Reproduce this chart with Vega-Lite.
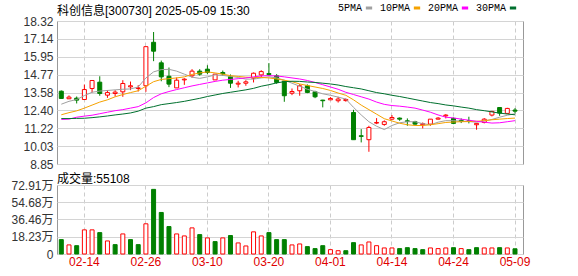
{
  "$schema": "https://vega.github.io/schema/vega-lite/v6.json",
  "background": "white",
  "padding": {"left": 10, "top": 3, "right": 0, "bottom": 0},
  "spacing": 1,
  "config": {
    "font": "Liberation Sans, Noto Sans CJK SC",
    "view": {"stroke": "#999999", "strokeWidth": 1},
    "axis": {"labelFont": "Liberation Sans, Noto Sans CJK SC", "labelFontSize": 12, "labelColor": "#333333", "ticks": false, "domain": false, "title": null, "labelOverlap": false}
  },
  "datasets": {
    "k": [
      {"d":"02-11","o":13.67,"h":13.72,"l":13.17,"c":13.19,"v":152000,"dir":"down","5PMA":12.81,"10PMA":12.11,"20PMA":11.80,"30PMA":11.86},
      {"d":"02-12","o":13.17,"h":13.39,"l":13.15,"c":13.28,"v":96000,"dir":"up","5PMA":13.00,"10PMA":12.25,"20PMA":11.82,"30PMA":11.86},
      {"d":"02-13","o":13.21,"h":13.32,"l":12.86,"c":13.08,"v":88000,"dir":"down","5PMA":13.12,"10PMA":12.37,"20PMA":11.95,"30PMA":11.87},
      {"d":"02-14","o":13.12,"h":14.11,"l":13.10,"c":13.78,"v":255000,"dir":"up","5PMA":13.38,"10PMA":12.55,"20PMA":12.02,"30PMA":11.88},
      {"d":"02-17","o":13.85,"h":14.38,"l":13.58,"c":14.38,"v":255000,"dir":"up","5PMA":13.60,"10PMA":12.75,"20PMA":12.08,"30PMA":11.92},
      {"d":"02-18","o":14.27,"h":14.66,"l":13.37,"c":13.52,"v":226000,"dir":"down","5PMA":13.68,"10PMA":12.95,"20PMA":12.18,"30PMA":11.97},
      {"d":"02-19","o":13.41,"h":13.74,"l":13.23,"c":13.58,"v":138000,"dir":"up","5PMA":13.72,"10PMA":13.10,"20PMA":12.28,"30PMA":12.03},
      {"d":"02-20","o":13.52,"h":13.74,"l":13.32,"c":13.61,"v":99000,"dir":"down","5PMA":13.76,"10PMA":13.30,"20PMA":12.38,"30PMA":12.10},
      {"d":"02-21","o":13.63,"h":14.40,"l":13.30,"c":14.18,"v":212000,"dir":"up","5PMA":13.80,"10PMA":13.45,"20PMA":12.45,"30PMA":12.16},
      {"d":"02-24","o":13.96,"h":14.31,"l":13.74,"c":14.03,"v":152000,"dir":"down","5PMA":13.82,"10PMA":13.58,"20PMA":12.55,"30PMA":12.23},
      {"d":"02-25","o":13.85,"h":14.07,"l":13.65,"c":13.89,"v":99000,"dir":"down","5PMA":13.95,"10PMA":13.70,"20PMA":12.65,"30PMA":12.35},
      {"d":"02-26","o":14.03,"h":16.62,"l":13.63,"c":16.62,"v":319000,"dir":"up","5PMA":14.55,"10PMA":14.00,"20PMA":12.90,"30PMA":12.55},
      {"d":"02-27","o":16.91,"h":17.59,"l":15.66,"c":16.32,"v":683000,"dir":"down","5PMA":14.95,"10PMA":14.30,"20PMA":13.25,"30PMA":12.65},
      {"d":"02-28","o":15.55,"h":15.70,"l":14.33,"c":14.62,"v":439000,"dir":"down","5PMA":15.10,"10PMA":14.45,"20PMA":13.50,"30PMA":12.78},
      {"d":"03-03","o":14.66,"h":15.24,"l":13.94,"c":14.14,"v":290000,"dir":"down","5PMA":15.12,"10PMA":14.50,"20PMA":13.65,"30PMA":12.85},
      {"d":"03-04","o":13.89,"h":14.58,"l":13.89,"c":14.40,"v":212000,"dir":"up","5PMA":15.00,"10PMA":14.55,"20PMA":13.78,"30PMA":12.92},
      {"d":"03-05","o":14.42,"h":14.53,"l":14.09,"c":14.47,"v":191000,"dir":"up","5PMA":14.80,"10PMA":14.62,"20PMA":13.90,"30PMA":13.00},
      {"d":"03-06","o":14.69,"h":15.13,"l":14.56,"c":15.00,"v":276000,"dir":"up","5PMA":14.60,"10PMA":14.78,"20PMA":14.02,"30PMA":13.10},
      {"d":"03-07","o":15.00,"h":15.13,"l":14.70,"c":14.80,"v":205000,"dir":"down","5PMA":14.52,"10PMA":14.88,"20PMA":14.12,"30PMA":13.20},
      {"d":"03-10","o":15.13,"h":15.39,"l":14.80,"c":14.91,"v":170000,"dir":"up","5PMA":14.62,"10PMA":14.95,"20PMA":14.22,"30PMA":13.32},
      {"d":"03-11","o":14.42,"h":14.80,"l":14.42,"c":14.80,"v":131000,"dir":"down","5PMA":14.75,"10PMA":14.88,"20PMA":14.32,"30PMA":13.42},
      {"d":"03-12","o":14.91,"h":15.04,"l":14.70,"c":14.82,"v":170000,"dir":"up","5PMA":14.72,"10PMA":14.80,"20PMA":14.40,"30PMA":13.52},
      {"d":"03-13","o":14.64,"h":14.78,"l":13.89,"c":14.20,"v":195000,"dir":"down","5PMA":14.65,"10PMA":14.70,"20PMA":14.45,"30PMA":13.60},
      {"d":"03-14","o":14.14,"h":14.36,"l":13.92,"c":14.20,"v":117000,"dir":"up","5PMA":14.58,"10PMA":14.65,"20PMA":14.50,"30PMA":13.68},
      {"d":"03-17","o":14.20,"h":14.40,"l":14.03,"c":14.29,"v":85000,"dir":"up","5PMA":14.47,"10PMA":14.60,"20PMA":14.55,"30PMA":13.76},
      {"d":"03-18","o":14.53,"h":14.91,"l":14.25,"c":14.86,"v":234000,"dir":"up","5PMA":14.47,"10PMA":14.58,"20PMA":14.62,"30PMA":13.86},
      {"d":"03-19","o":14.75,"h":15.06,"l":14.58,"c":14.97,"v":191000,"dir":"up","5PMA":14.55,"10PMA":14.58,"20PMA":14.68,"30PMA":14.00},
      {"d":"03-20","o":14.84,"h":15.53,"l":14.69,"c":14.78,"v":226000,"dir":"down","5PMA":14.62,"10PMA":14.55,"20PMA":14.70,"30PMA":14.10},
      {"d":"03-21","o":14.69,"h":14.80,"l":14.16,"c":14.25,"v":152000,"dir":"down","5PMA":14.55,"10PMA":14.48,"20PMA":14.68,"30PMA":14.22},
      {"d":"03-24","o":14.34,"h":14.36,"l":12.97,"c":13.37,"v":152000,"dir":"down","5PMA":14.40,"10PMA":14.40,"20PMA":14.62,"30PMA":14.30},
      {"d":"03-25","o":13.54,"h":13.85,"l":13.41,"c":13.65,"v":96000,"dir":"up","5PMA":14.20,"10PMA":14.30,"20PMA":14.55,"30PMA":14.33},
      {"d":"03-26","o":13.70,"h":14.14,"l":13.37,"c":14.03,"v":106000,"dir":"up","5PMA":14.00,"10PMA":14.15,"20PMA":14.48,"30PMA":14.32},
      {"d":"03-27","o":14.03,"h":14.12,"l":13.54,"c":13.59,"v":78000,"dir":"down","5PMA":13.80,"10PMA":14.05,"20PMA":14.38,"30PMA":14.28},
      {"d":"03-28","o":13.63,"h":13.70,"l":13.21,"c":13.30,"v":57000,"dir":"down","5PMA":13.65,"10PMA":13.95,"20PMA":14.25,"30PMA":14.25},
      {"d":"03-31","o":13.08,"h":13.10,"l":12.60,"c":13.04,"v":88000,"dir":"down","5PMA":13.50,"10PMA":13.85,"20PMA":14.10,"30PMA":14.20},
      {"d":"04-01","o":13.10,"h":13.28,"l":13.08,"c":13.19,"v":46000,"dir":"up","5PMA":13.40,"10PMA":13.72,"20PMA":13.95,"30PMA":14.15},
      {"d":"04-02","o":13.04,"h":13.30,"l":12.92,"c":13.15,"v":35000,"dir":"up","5PMA":13.28,"10PMA":13.55,"20PMA":13.80,"30PMA":14.08},
      {"d":"04-03","o":13.05,"h":13.20,"l":12.98,"c":13.12,"v":35000,"dir":"down","5PMA":13.15,"10PMA":13.40,"20PMA":13.60,"30PMA":13.98},
      {"d":"04-07","o":12.26,"h":12.44,"l":10.46,"c":10.46,"v":120000,"dir":"down","5PMA":12.60,"10PMA":13.10,"20PMA":13.45,"30PMA":13.90},
      {"d":"04-08","o":10.72,"h":11.16,"l":10.28,"c":10.68,"v":96000,"dir":"up","5PMA":12.10,"10PMA":12.75,"20PMA":13.30,"30PMA":13.82},
      {"d":"04-09","o":10.46,"h":11.38,"l":9.66,"c":11.27,"v":127000,"dir":"up","5PMA":11.65,"10PMA":12.45,"20PMA":13.15,"30PMA":13.70},
      {"d":"04-10","o":11.56,"h":11.89,"l":11.49,"c":11.60,"v":88000,"dir":"up","5PMA":11.35,"10PMA":12.15,"20PMA":12.95,"30PMA":13.58},
      {"d":"04-11","o":11.47,"h":11.74,"l":11.38,"c":11.65,"v":64000,"dir":"up","5PMA":11.13,"10PMA":11.85,"20PMA":12.80,"30PMA":13.50},
      {"d":"04-14","o":11.82,"h":12.09,"l":11.78,"c":11.93,"v":64000,"dir":"up","5PMA":11.40,"10PMA":11.70,"20PMA":12.72,"30PMA":13.40},
      {"d":"04-15","o":11.89,"h":11.93,"l":11.71,"c":11.82,"v":57000,"dir":"down","5PMA":11.58,"10PMA":11.55,"20PMA":12.68,"30PMA":13.32},
      {"d":"04-16","o":11.71,"h":11.87,"l":11.38,"c":11.67,"v":67000,"dir":"down","5PMA":11.65,"10PMA":11.45,"20PMA":12.62,"30PMA":13.22},
      {"d":"04-17","o":11.65,"h":11.71,"l":11.45,"c":11.49,"v":57000,"dir":"down","5PMA":11.65,"10PMA":11.40,"20PMA":12.55,"30PMA":13.12},
      {"d":"04-18","o":11.45,"h":11.60,"l":11.21,"c":11.52,"v":46000,"dir":"down","5PMA":11.52,"10PMA":11.40,"20PMA":12.42,"30PMA":13.02},
      {"d":"04-21","o":11.49,"h":11.83,"l":11.38,"c":11.82,"v":64000,"dir":"up","5PMA":11.45,"10PMA":11.45,"20PMA":12.28,"30PMA":12.92},
      {"d":"04-22","o":11.82,"h":11.95,"l":11.80,"c":11.89,"v":57000,"dir":"up","5PMA":11.62,"10PMA":11.52,"20PMA":12.10,"30PMA":12.85},
      {"d":"04-23","o":12.04,"h":12.15,"l":11.87,"c":12.09,"v":64000,"dir":"up","5PMA":11.72,"10PMA":11.60,"20PMA":11.95,"30PMA":12.76},
      {"d":"04-24","o":11.87,"h":11.93,"l":11.49,"c":11.54,"v":67000,"dir":"down","5PMA":11.72,"10PMA":11.63,"20PMA":11.90,"30PMA":12.70},
      {"d":"04-25","o":11.74,"h":11.87,"l":11.56,"c":11.67,"v":57000,"dir":"up","5PMA":11.68,"10PMA":11.65,"20PMA":11.82,"30PMA":12.62},
      {"d":"04-28","o":11.71,"h":11.98,"l":11.54,"c":11.67,"v":46000,"dir":"down","5PMA":11.66,"10PMA":11.66,"20PMA":11.75,"30PMA":12.55},
      {"d":"04-29","o":11.45,"h":11.56,"l":11.12,"c":11.54,"v":67000,"dir":"down","5PMA":11.62,"10PMA":11.68,"20PMA":11.68,"30PMA":12.45},
      {"d":"04-30","o":11.60,"h":11.89,"l":11.54,"c":11.82,"v":64000,"dir":"up","5PMA":11.70,"10PMA":11.72,"20PMA":11.62,"30PMA":12.38},
      {"d":"05-06","o":12.09,"h":12.37,"l":12.00,"c":12.33,"v":64000,"dir":"up","5PMA":11.80,"10PMA":11.78,"20PMA":11.56,"30PMA":12.30},
      {"d":"05-07","o":12.59,"h":12.59,"l":12.04,"c":12.22,"v":67000,"dir":"down","5PMA":11.95,"10PMA":11.82,"20PMA":11.58,"30PMA":12.22},
      {"d":"05-08","o":12.20,"h":12.57,"l":12.20,"c":12.53,"v":64000,"dir":"up","5PMA":12.08,"10PMA":11.86,"20PMA":11.65,"30PMA":12.16},
      {"d":"05-09","o":12.42,"h":12.55,"l":12.20,"c":12.35,"v":55108,"dir":"down","5PMA":12.18,"10PMA":11.89,"20PMA":11.72,"30PMA":12.11}
    ]
  },
  "vconcat": [
    {
      "width": 466,
      "height": 143,
      "data": {"name": "k"},
      "title": {"text": "科创信息[300730] 2025-05-09 15:30", "anchor": "start", "frame": "group", "fontSize": 12, "fontWeight": "normal", "font": "Liberation Sans, Noto Sans CJK SC", "color": "#000000", "offset": -3},
      "encoding": {
        "x": {"field": "d", "type": "ordinal", "sort": null,
              "scale": {"paddingInner": 0, "paddingOuter": 0.3, "align": 0.1},
              "axis": {"values": ["02-14","02-26","03-10","03-20","04-01","04-14","04-24","05-09"], "labels": false, "labelPadding": 0, "grid": true, "gridColor": "#cccccc", "gridDash": [4,3]}}
      },
      "layer": [
        {
          "mark": {"type": "rule", "strokeWidth": 1},
          "encoding": {
            "y": {"field": "l", "type": "quantitative",
                  "scale": {"domain": [8.85, 18.32], "nice": false, "zero": false},
                  "axis": {"values": [8.85,10.03,11.22,12.40,13.58,14.77,15.95,17.14,18.32], "tickCount": 20, "format": ".2f", "labelOverlap": false, "labelFlush": false, "grid": true, "gridColor": "#d4d4d4", "labelPadding": 4}},
            "y2": {"field": "h"},
            "color": {"condition": {"test": "datum.c >= datum.o", "value": "#ff0000"}, "value": "#008000"}
          }
        },
        {
          "mark": {"type": "bar", "size": 4, "strokeWidth": 1},
          "encoding": {
            "y": {"field": "o", "type": "quantitative"},
            "y2": {"field": "c"},
            "fill": {"condition": {"test": "datum.c >= datum.o", "value": "#ffffff"}, "value": "#008000"},
            "stroke": {"condition": {"test": "datum.c >= datum.o", "value": "#ff0000"}, "value": "#008000"}
          }
        },
        {
          "transform": [{"fold": ["5PMA","10PMA","20PMA","30PMA"], "as": ["ma","val"]}],
          "mark": {"type": "line", "strokeWidth": 1},
          "encoding": {
            "y": {"field": "val", "type": "quantitative"},
            "color": {"field": "ma", "type": "nominal",
                      "scale": {"domain": ["5PMA","10PMA","20PMA","30PMA"], "range": ["#a0a0a0","#f5a200","#ff00ff","#00702e"]},
                      "legend": {"title": null, "orient": "none", "legendX": 307, "legendY": -18, "direction": "horizontal",
                                 "symbolType": "stroke", "symbolStrokeWidth": 3, "symbolSize": 40,
                                 "labelFont": "Liberation Mono", "labelFontSize": 10, "labelColor": "#000000",
                                 "labelAlign": "right", "labelOffset": -12, "columnPadding": 0}}
          }
        }
      ]
    },
    {
      "width": 466,
      "height": 69,
      "data": {"name": "k"},
      "title": {"text": "成交量:55108", "anchor": "start", "frame": "group", "fontSize": 12, "fontWeight": "normal", "font": "Liberation Sans, Noto Sans CJK SC", "color": "#000000", "offset": -7},
      "mark": {"type": "bar", "size": 4, "strokeWidth": 1},
      "encoding": {
        "x": {"field": "d", "type": "ordinal", "sort": null,
              "scale": {"paddingInner": 0, "paddingOuter": 0.3, "align": 0.1},
              "axis": {"values": ["02-14","02-26","03-10","03-20","04-01","04-14","04-24","05-09"], "labelAngle": 0, "labelColor": "#e00000", "labelPadding": 2, "grid": true, "gridColor": "#cccccc", "gridDash": [4,3]}},
        "y": {"field": "v", "type": "quantitative",
              "scale": {"domain": [0, 729100], "nice": false},
              "axis": {"values": [0,182300,364600,546800,729100], "tickCount": 10, "labelExpr": "datum.value == 0 ? '0' : format(datum.value / 10000, '.2f') + '万'", "labelOverlap": false, "labelFlush": false, "grid": true, "gridColor": "#d4d4d4", "labelPadding": 4}},
        "fill": {"condition": {"test": "datum.dir == 'up'", "value": "#ffffff"}, "value": "#008000"},
        "stroke": {"condition": {"test": "datum.dir == 'up'", "value": "#ff0000"}, "value": "#008000"}
      }
    }
  ]
}
